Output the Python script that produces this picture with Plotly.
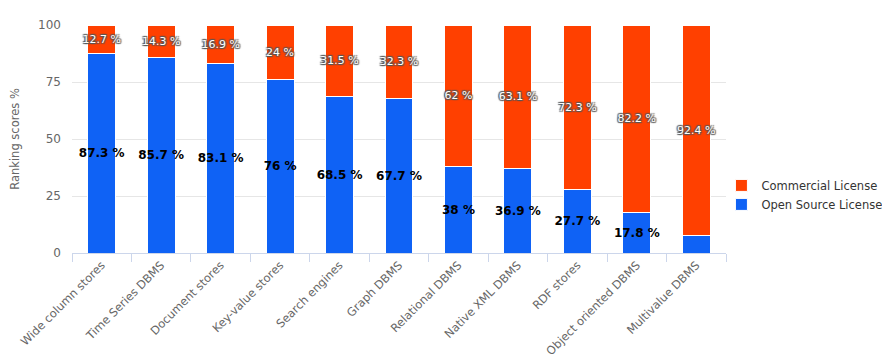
import plotly.graph_objects as go

categories = ["Wide column stores", "Time Series DBMS", "Document stores", "Key-value stores",
              "Search engines", "Graph DBMS", "Relational DBMS", "Native XML DBMS",
              "RDF stores", "Object oriented DBMS", "Multivalue DBMS"]
commercial = [12.7, 14.3, 16.9, 24, 31.5, 32.3, 62, 63.1, 72.3, 82.2, 92.4]
open_source = [87.3, 85.7, 83.1, 76, 68.5, 67.7, 38, 36.9, 27.7, 17.8, 7.6]
y_ticks = [0, 25, 50, 75, 100]

def lab(v, min_show=10):
    return ("%g %%" % v) if v >= min_show else ""

fig = go.Figure()
fig.add_trace(go.Bar(
    x=categories, y=open_source, name="Open Source License",
    marker=dict(color="#0f62f5", line=dict(color="white", width=1)),
    text=[lab(v) for v in open_source], textposition="inside",
    insidetextanchor="middle", textangle=0, constraintext="none",
    textfont=dict(family="DejaVu Sans", size=12, color="black", weight="bold"),
    hoverinfo="skip",
))
fig.add_trace(go.Bar(
    x=categories, y=commercial, name="Commercial License",
    marker=dict(color="#ff4000", line=dict(color="white", width=1)),
    text=[lab(v) for v in commercial], textposition="inside",
    insidetextanchor="middle", textangle=0, constraintext="none",
    textfont=dict(family="DejaVu Sans", size=11, color="white",
                  shadow="1px 1px 1px #555, -1px -1px 1px #555, 1px -1px 1px #555, -1px 1px 1px #555"),
    hoverinfo="skip",
))

fig.update_layout(
    barmode="stack", bargap=0.53,
    width=882, height=351,
    margin=dict(l=64, r=164, t=17, b=106, autoexpand=False),
    paper_bgcolor="white", plot_bgcolor="white",
    font=dict(family="DejaVu Sans", size=11, color="#666666"),
    showlegend=True,
    legend=dict(x=0.993, y=0.36, xanchor="left", yanchor="top",
                traceorder="reversed", font=dict(size=11.5, color="#333333"),
                itemwidth=30, bgcolor="rgba(0,0,0,0)", tracegroupgap=0),
    xaxis=dict(tickangle=-45, tickson="boundaries", ticks="outside", ticklen=8,
               tickcolor="#ccd6eb", showline=True, linecolor="#ccd6eb",
               tickfont=dict(size=11.5, color="#666666"), fixedrange=True, automargin=False),
    yaxis=dict(range=[0, 100], tickvals=y_ticks, showgrid=True, gridcolor="#e6e6e6",
               zeroline=False, ticks="", ticklabelstandoff=10, automargin=False,
               tickfont=dict(size=12, color="#666666"),
               title=dict(text="Ranking scores %", font=dict(size=11.5, color="#666666"), standoff=16)),
)
fig.write_html("out.html")
